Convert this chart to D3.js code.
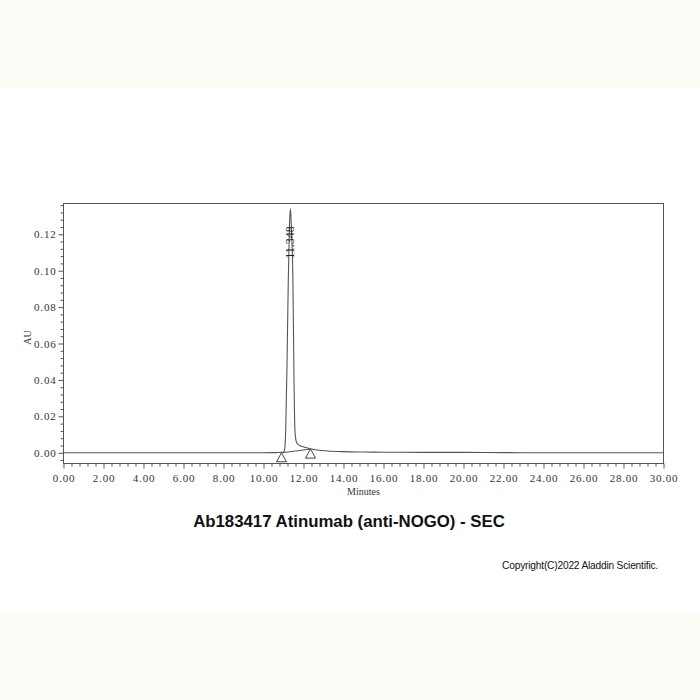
<!DOCTYPE html>
<html><head><meta charset="utf-8">
<script src="https://cdn.jsdelivr.net/npm/d3@7"></script>
<style>body{margin:0;background:#fff}svg{display:block}</style>
</head><body><svg id="c" width="700" height="700"></svg>
<script>
// ---- data ----
const times = [0, 5, 10.0, 10.6, 11.00, 11.06, 11.11, 11.17, 11.24, 11.30, 11.348, 11.40, 11.47, 11.52, 11.57, 11.62, 11.67, 11.80, 11.98, 12.35, 12.70, 13.20, 14.00, 15.00, 16.00, 18.00, 20.00, 22.00, 24.00, 30.00];
const absorb = [0, 0, 0, 0.0001, 0.0002, 0.002, 0.0125, 0.045, 0.095, 0.126, 0.134, 0.122, 0.095, 0.045, 0.0125, 0.007, 0.0053, 0.004, 0.0033, 0.0022, 0.0015, 0.001, 0.0006, 0.0004, 0.0003, 0.0002, 0.0002, 0.0001, 0, 0];
const peakTime = 11.348;
const peakLabel = "11.348";
const markTimes = [10.9, 12.35];
const markValues = [0, 0.002];
const xTicks = [0, 2, 4, 6, 8, 10, 12, 14, 16, 18, 20, 22, 24, 26, 28, 30];
const yTicks = [0, 0.02, 0.04, 0.06, 0.08, 0.10, 0.12];
const xLabel = "Minutes";
const yLabel = "AU";
const title = "Ab183417 Atinumab (anti-NOGO) - SEC";
const copyright = "Copyright(C)2022 Aladdin Scientific.";

const svg = d3.select("#c");
// background bands
svg.append("rect").attr("x",0).attr("y",0).attr("width",700).attr("height",88).attr("fill","#fcfdf7");
svg.append("rect").attr("x",0).attr("y",613).attr("width",700).attr("height",87).attr("fill","#fcfdf7");

const L = 63.5, R = 663.5, T = 203.5, B = 463.5;
const x = d3.scaleLinear().domain([0, 30]).range([L, R]);
const y = d3.scaleLinear().domain([-0.0059, 0.1369]).range([B, T]);

const axCol = "#555";
const serif = "'Liberation Serif','DejaVu Serif',serif";

// frame
svg.append("rect").attr("x",L).attr("y",T).attr("width",R-L).attr("height",B-T)
  .attr("fill","none").attr("stroke",axCol).attr("stroke-width",1);

// x axis
const xMinor = d3.range(0, 30.001, 0.4).filter(v => Math.abs(v/2 - Math.round(v/2)) > 1e-6);
const xa = svg.append("g").attr("transform",`translate(0,${B})`);
xa.call(d3.axisBottom(x).tickValues(xMinor).tickSize(3).tickFormat(""))
  .call(g => g.select(".domain").remove())
  .call(g => g.selectAll("line").attr("stroke",axCol));
const xb = svg.append("g").attr("transform",`translate(0,${B})`);
xb.call(d3.axisBottom(x).tickValues(xTicks).tickSize(5).tickPadding(6).tickFormat(d3.format(".2f")))
  .call(g => g.select(".domain").remove())
  .call(g => g.selectAll("line").attr("stroke",axCol))
  .call(g => g.selectAll("text").attr("font-family",serif).attr("font-size",11).attr("letter-spacing",0.8).attr("fill","#333"));

// y axis
const yMinor = d3.range(-0.004, 0.1361, 0.004).filter(v => Math.abs(v/0.02 - Math.round(v/0.02)) > 1e-6);
const ya = svg.append("g").attr("transform",`translate(${L},0)`);
ya.call(d3.axisLeft(y).tickValues(yMinor).tickSize(3).tickFormat(""))
  .call(g => g.select(".domain").remove())
  .call(g => g.selectAll("line").attr("stroke",axCol));
const yb = svg.append("g").attr("transform",`translate(${L},0)`);
yb.call(d3.axisLeft(y).tickValues(yTicks).tickSize(5).tickPadding(2).tickFormat(d3.format(".2f")))
  .call(g => g.select(".domain").remove())
  .call(g => g.selectAll("line").attr("stroke",axCol))
  .call(g => g.selectAll("text").attr("font-family",serif).attr("font-size",11).attr("letter-spacing",0.8).attr("fill","#333"));

// axis titles
svg.append("text").attr("x",(L+R)/2).attr("y",495).attr("text-anchor","middle")
  .attr("font-family",serif).attr("font-size",10).attr("fill","#333").text(xLabel);
svg.append("text").attr("transform",`translate(31,${(T+B)/2+4}) rotate(-90)`).attr("text-anchor","middle")
  .attr("font-family",serif).attr("font-size",10).attr("fill","#333").text(yLabel);

// trace
const pts = times.map((t,i)=>[t, absorb[i]]);
svg.append("path").datum(pts)
  .attr("d", d3.line().x(d=>x(d[0])).y(d=>y(d[1])).curve(d3.curveMonotoneX))
  .attr("fill","none").attr("stroke","#555").attr("stroke-width",1.1);

// integration baseline
const mk = markTimes.map((t,i)=>[t, markValues[i]]);
svg.append("path").datum(mk)
  .attr("d", d3.line().x(d=>x(d[0])).y(d=>y(d[1])))
  .attr("fill","none").attr("stroke","#555").attr("stroke-width",1);
svg.selectAll(".tri").data(mk).enter().append("path")
  .attr("d", d => { const px=x(d[0]), py=y(d[1]); return `M${px},${py} L${px-5},${py+9} L${px+5},${py+9} Z`; })
  .attr("fill","none").attr("stroke","#444").attr("stroke-width",1);

// peak label
svg.append("text")
  .attr("transform",`translate(${x(peakTime)+4},${y(0.1155)}) rotate(-90)`)
  .attr("text-anchor","middle").attr("font-family",serif).attr("font-size",12).attr("fill","#222").text(peakLabel);

// titles
svg.append("text").attr("x",349).attr("y",527).attr("text-anchor","middle")
  .attr("font-family","'Liberation Sans',Arial,sans-serif").attr("font-weight","bold").attr("font-size",16.8).attr("fill","#111").text(title);
svg.append("text").attr("x",658).attr("y",569).attr("text-anchor","end")
  .attr("font-family","'Liberation Sans',Arial,sans-serif").attr("font-size",10.2).attr("fill","#111").attr("letter-spacing",-0.2).text(copyright);
</script></body></html>
